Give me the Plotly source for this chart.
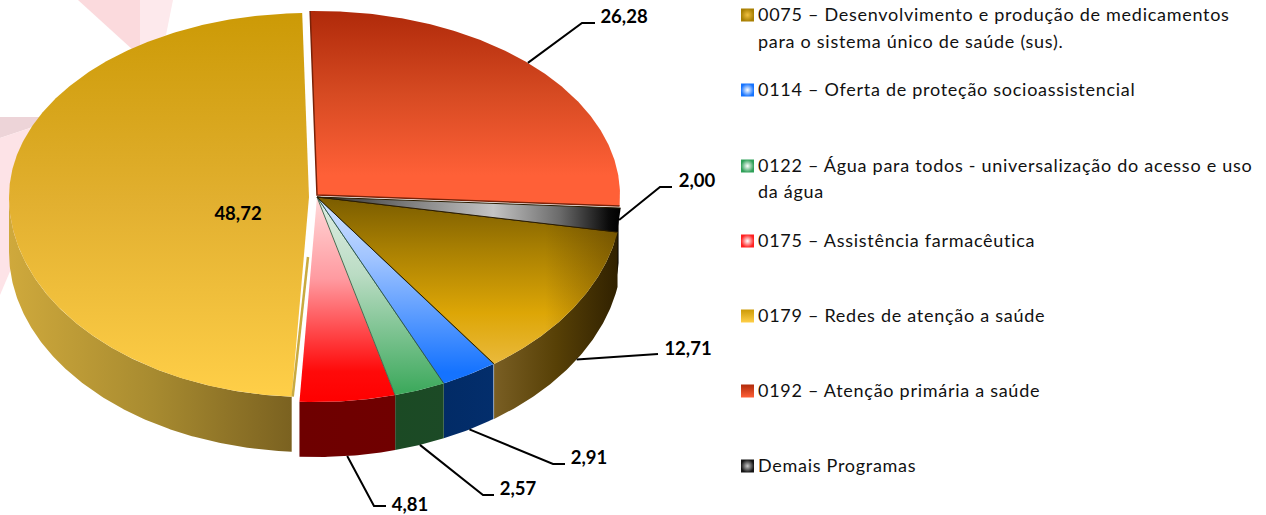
import numpy as np
import plotly.graph_objects as go

# ---- data (clockwise from the top of the pie) ----
slice_names = ["0192", "Demais", "0075", "0114", "0122", "0175", "0179"]
slice_values = [26.28, 2.00, 12.71, 2.91, 2.57, 4.81, 48.72]

legend_codes = ["0075", "0114", "0122", "0175", "0179", "0192", "Demais"]
legend_lines = [
    ["0075 – Desenvolvimento e produção de medicamentos", "para o sistema único de saúde (sus)."],
    ["0114 – Oferta de proteção socioassistencial"],
    ["0122 – Água para todos - universalização do acesso e uso", "da água"],
    ["0175 – Assistência farmacêutica"],
    ["0179 – Redes de atenção a saúde"],
    ["0192 – Atenção primária a saúde"],
    ["Demais Programas"],
]

# ---- layout constants (pixels, on axes that span the page) ----
W, H = 1266, 515
START = -1.3
DEPTH = 55
WARP = 1.9
FONT = "Lato"
geom = {
    "0192": dict(cx=317, cy=195, rx=303, top=184, bot=205),
    "Demais": dict(cx=317, cy=197, rx=304, top=186, bot=205),
    "0075": dict(cx=317, cy=197, rx=305, top=186, bot=205),
    "0114": dict(cx=317, cy=197, rx=304, top=186, bot=205),
    "0122": dict(cx=317, cy=197, rx=304, top=186, bot=205),
    "0175": dict(cx=317, cy=197, rx=304, top=186, bot=205),
    "0179": dict(cx=309, cy=197, rx=300, top=184, bot=200),
}
side_rx = {"Demais": 302}
top_grad = {
    "0192": (12, 175, [[0, "#B02A0A"], [0.5, "#D64A22"], [1, "#FF6037"]]),
    "Demais": None,
    "0075": (197, 368, [[0, "#7A5C00"], [0.3, "#A87F02"], [0.68, "#DDA606"], [1, "#EBBB40"]]),
    "0114": (197, 372, [[0, "#D5E4FF"], [0.35, "#A0C4FF"], [1, "#1573FF"]]),
    "0122": (197, 390, [[0, "#E0EEE5"], [0.4, "#BBDCC4"], [1, "#3FAA5E"]]),
    "0175": (197, 402, [[0, "#FFDADA"], [0.4, "#FF9AA0"], [0.85, "#FF0A0A"], [1, "#FF0000"]]),
    "0179": (13, 397, [[0, "#CC9A06"], [0.5, "#E2B030"], [1, "#FFCF48"]]),
}
side_grad = {
    "0192": (300, 620, [[0, "#5A1500"], [1, "#5A1500"]]),
    "Demais": (600, 622, [[0, "#1A1200"], [1, "#000000"]]),
    "0075": (493, 620, [[0, "#7A5F24"], [0.5, "#574006"], [1, "#2F2000"]]),
    "0114": (440, 495, [[0, "#022B66"], [1, "#032E6C"]]),
    "0122": (393, 443, [[0, "#1B4A24"], [1, "#1C4A26"]]),
    "0175": (300, 395, [[0, "#6E0000"], [1, "#700000"]]),
    "0179": (9, 294, [[0, "#CFA93C"], [0.5, "#A88B30"], [1, "#7A6120"]]),
}
edge_color = {"0192": "#7A2208", "Demais": "#2A1C00", "0075": "#2A1C00",
              "0114": "#2E5A52", "0122": "#4A6A50", "0175": "rgba(0,0,0,0)", "0179": "#C9AA40"}

# leader-line elbows and label centres, keyed by slice
leader = {
    "0192": ([(582, 23), (595, 23)], (624, 18), "rim"),
    "Demais": ([(660, 187), (672, 187)], (697, 182), "rim"),
    "0075": ([(658, 354)], (688, 350), "side"),
    "0114": ([(553, 464), (565, 464)], (589, 459), "side"),
    "0122": ([(483, 495), (494, 495)], (518, 490), "side"),
    "0175": ([(374, 506), (386, 506)], (410, 506), "side"),
}
inner_label = ("0179", (238, 215))

swatch_x = 747.5
text_x = 758
legend_y = [[15, 42], [90], [166, 192], [241], [316], [391], [466]]
text_dy = 1
swatch_style = {
    "0075": ("#A87F02", "#F0C040", "radial"),
    "0114": ("#1573FF", "#FFFFFF", "radial"),
    "0122": ("#2FA058", "#FFFFFF", "radial"),
    "0175": ("#FF2020", "#FFFFFF", "radial"),
    "0179": ("#CC9A06", "#FFCF48", "vertical"),
    "0192": ("#B02A0A", "#FF6037", "vertical"),
    "Demais": ("#151515", "#C8C8C8", "radial"),
}

watermark = [
    ("#FBDADD", [(78, 0), (140, 0), (140, 47), (133, 50)]),
    ("#FDE9EC", [(140, 0), (173, 0), (166, 35), (140, 47)]),
    ("#EDD4D8", [(0, 117), (43, 117), (30, 128), (0, 138)]),
    ("#FDE3E7", [(0, 138), (30, 128), (14, 262), (0, 295)]),
]


def rim(g, t):
    t = np.asarray(t, dtype=float)
    # the picture is in perspective: the near half of the pie is squeezed a little
    t = np.where((t >= 0) & (t <= 180), t - WARP * np.abs(np.sin(np.radians(2 * t))), t)
    r = np.radians(t)
    c = np.cos(r)
    x = g["cx"] + g["rx"] * np.sin(r)
    y = g["cy"] - np.where(c > 0, g["top"], g["bot"]) * c
    return x, y


def arc(g, a, b):
    return rim(g, np.linspace(a, b, max(int(abs(b - a) * 2), 6)))


def gradient(kind, spec):
    start, stop, cs = spec
    return dict(type=kind, start=start, stop=stop, colorscale=cs)


fig = go.Figure()
cum = START + np.cumsum([0] + [v * 3.6 for v in slice_values])
angles = {n: (cum[i], cum[i + 1]) for i, n in enumerate(slice_names)}

# sides (only the part of the rim that faces the viewer)
for n in ["0179", "Demais", "0075", "0114", "0122", "0175"]:
    a, b = angles[n]
    a2, b2 = max(a, 90), min(b, 270)
    g = dict(geom[n])
    g["rx"] = side_rx.get(n, g["rx"])
    x, y = arc(g, a2, b2)
    fig.add_trace(go.Scatter(
        x=np.r_[x, x[::-1]], y=np.r_[y, y[::-1] + DEPTH], mode="lines",
        line=dict(width=0), fill="toself", fillgradient=gradient("horizontal", side_grad[n]),
        hoverinfo="skip"))

# top faces
for n in ["0179", "0175", "0122", "0114", "0075", "Demais", "0192"]:
    a, b = angles[n]
    g = geom[n]
    x, y = arc(g, a, b)
    px = np.r_[g["cx"], x, g["cx"]]
    py = np.r_[g["cy"], y, g["cy"]]
    if n == "Demais":
        fg = dict(type="horizontal", start=317, stop=621,
                  colorscale=[[0, "#2A2A2A"], [0.35, "#8A8A8A"], [0.58, "#C4C4C4"], [0.8, "#6A6A6A"], [0.96, "#0A0A0A"], [1, "#000000"]])
    else:
        fg = gradient("vertical", top_grad[n])
    fig.add_trace(go.Scatter(x=px, y=py, mode="lines", line=dict(width=0), fill="toself",
                             fillgradient=fg, hoverinfo="skip"))
    if n == "0075":
        fig.add_trace(go.Scatter(x=px, y=py, mode="lines", line=dict(width=0), fill="toself",
                                 fillgradient=dict(type="horizontal", start=545, stop=620,
                                                   colorscale=[[0, "rgba(70,45,0,0)"], [1, "rgba(70,45,0,0.45)"]]),
                                 hoverinfo="skip"))
    # radial edges
    ex = [x[0], g["cx"], x[-1]]
    ey = [y[0], g["cy"], y[-1]]
    if n == "0179":
        ex, ey = [g["cx"] - 1, x[0] + 1], [g["cy"] + 60, y[0]]
        w = 2.5
    elif n == "0192":
        w = 1.5
    else:
        w = 1
    if n == "0175":
        continue
    fig.add_trace(go.Scatter(x=ex, y=ey, mode="lines", line=dict(color=edge_color[n], width=w),
                             hoverinfo="skip"))

# leader lines
for n, (elbows, _, kind) in leader.items():
    a, b = angles[n]
    mid = (a + b) / 2
    ax, ay = rim(geom[n], mid)
    if kind == "side":
        ay = ay + DEPTH
    fig.add_trace(go.Scatter(x=[float(ax)] + [p[0] for p in elbows],
                             y=[float(ay)] + [p[1] for p in elbows],
                             mode="lines", line=dict(color="#000000", width=2), hoverinfo="skip"))

# value labels
label_items = [(n, leader[n][1]) for n in leader] + [inner_label]
fig.add_trace(go.Scatter(
    x=[p[0] for _, p in label_items], y=[p[1] for _, p in label_items],
    text=[f"{slice_values[slice_names.index(n)]:.2f}".replace(".", ",") for n, _ in label_items],
    mode="text", textposition="middle center",
    textfont=dict(family=FONT, size=18.5, color="#000000", weight="bold"), hoverinfo="skip"))

# legend
fig.add_trace(go.Scatter(
    x=[swatch_x] * len(legend_codes), y=[ys[0] for ys in legend_y], mode="markers",
    marker=dict(symbol="square", size=13,
                color=[swatch_style[c][0] for c in legend_codes],
                gradient=dict(type=[swatch_style[c][2] for c in legend_codes],
                              color=[swatch_style[c][1] for c in legend_codes]),
                line=dict(width=0)),
    hoverinfo="skip"))
lx, ly, lt = [], [], []
for lines, ys in zip(legend_lines, legend_y):
    for s, y in zip(lines, ys):
        lx.append(text_x); ly.append(y + text_dy); lt.append(s)
fig.add_trace(go.Scatter(x=lx, y=ly, text=lt, mode="text", textposition="middle right",
                         textfont=dict(family=FONT, size=18, color="#111111"), hoverinfo="skip"))

shapes = []
for color, pts in watermark:
    path = "M " + " L ".join(f"{x},{y}" for x, y in pts) + " Z"
    shapes.append(dict(type="path", path=path, fillcolor=color, line=dict(width=0), layer="below",
                       xref="x", yref="y"))

fig.update_layout(
    width=W, height=H, margin=dict(l=0, r=0, t=0, b=0), showlegend=False,
    paper_bgcolor="#FFFFFF", plot_bgcolor="#FFFFFF", shapes=shapes,
    xaxis=dict(range=[0, W], visible=False, fixedrange=True),
    yaxis=dict(range=[H, 0], visible=False, fixedrange=True),
)
post = ("document.body.style.margin='0';"
        "document.querySelectorAll('.scatterlayer .trace:last-child .textpoint text')"
        ".forEach(function(t){t.style.letterSpacing='0.72px';});")
fig.write_html("out.html", post_script=post, config={"displayModeBar": False})
